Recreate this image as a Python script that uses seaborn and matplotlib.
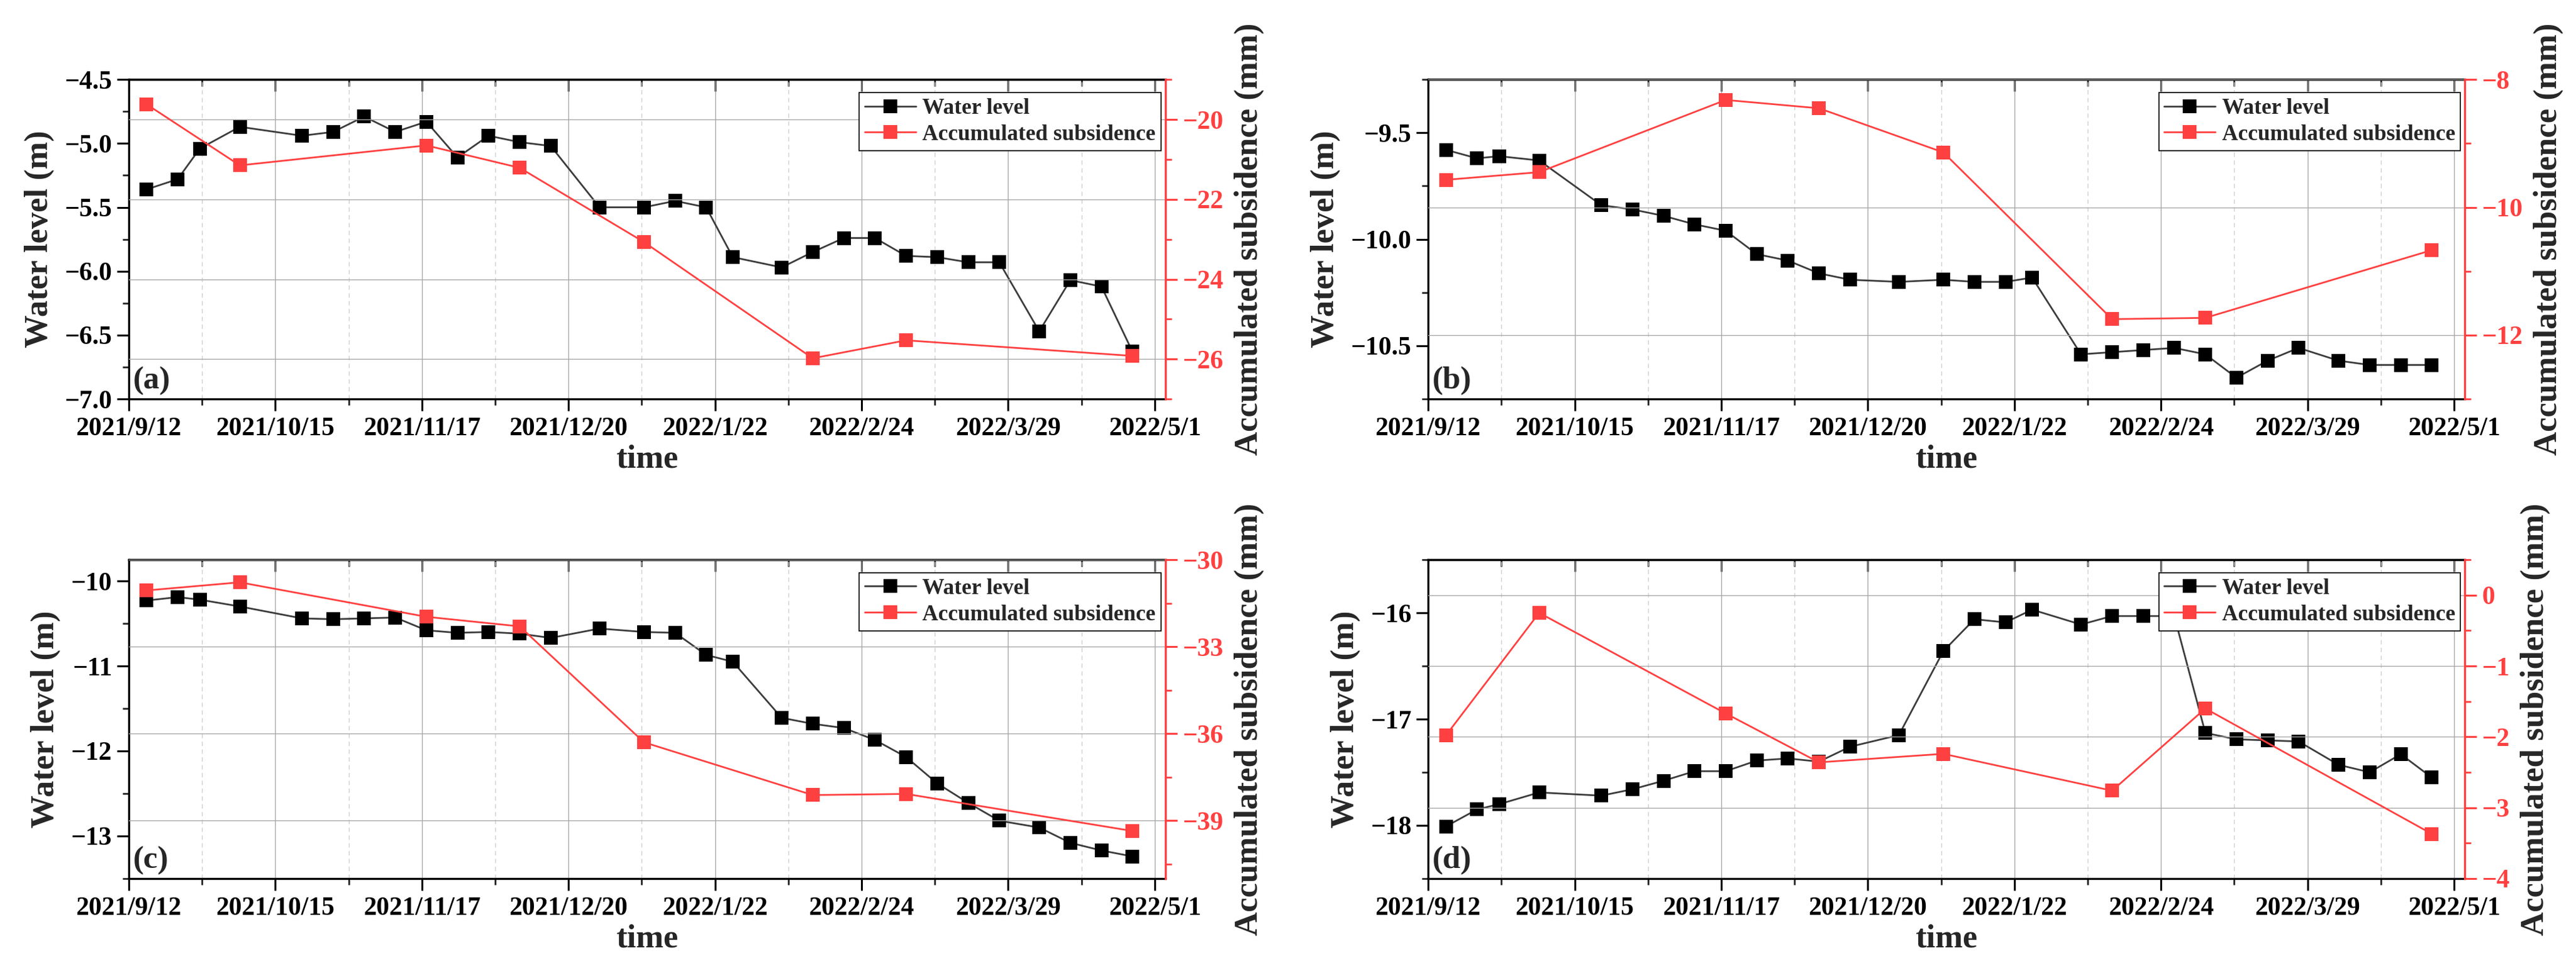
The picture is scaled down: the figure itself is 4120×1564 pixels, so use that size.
import numpy as np
import pandas as pd
import matplotlib
matplotlib.use("Agg")
import matplotlib.pyplot as plt
import matplotlib.dates as mdates
from matplotlib.ticker import MultipleLocator, FixedLocator, FuncFormatter
import seaborn as sns

sns.set_style("ticks")
plt.rcParams["font.family"] = ["Liberation Serif", "DejaVu Serif"]
plt.rcParams["font.weight"] = "bold"
plt.rcParams["axes.labelweight"] = "bold"

# ----------------------------------------------------------
# data
# ----------------------------------------------------------
wl_dates = ["2021-09-16", "2021-09-23", "2021-09-28", "2021-10-07", "2021-10-21",
            "2021-10-28", "2021-11-04", "2021-11-11", "2021-11-18", "2021-11-25",
            "2021-12-02", "2021-12-09", "2021-12-16", "2021-12-27", "2022-01-06",
            "2022-01-13", "2022-01-20", "2022-01-26", "2022-02-06", "2022-02-13",
            "2022-02-20", "2022-02-27", "2022-03-06", "2022-03-13", "2022-03-20",
            "2022-03-27", "2022-04-05", "2022-04-12", "2022-04-19", "2022-04-26"]
sub_dates = ["2021-09-16", "2021-10-07", "2021-11-18", "2021-12-09",
             "2022-01-06", "2022-02-13", "2022-03-06", "2022-04-26"]

wl_a = [-5.36, -5.28, -5.04, -4.87, -4.94, -4.91, -4.79, -4.91, -4.83, -5.11,
        -4.94, -4.99, -5.02, -5.50, -5.50, -5.45, -5.50, -5.89, -5.97, -5.85,
        -5.74, -5.74, -5.88, -5.89, -5.93, -5.93, -6.47, -6.07, -6.12, -6.63]
sub_a = [-19.62, -21.15, -20.65, -21.21, -23.07, -25.98, -25.53, -25.92]

wl_b = [-9.58, -9.62, -9.61, -9.63, -9.84, -9.86, -9.89, -9.93, -9.96, -10.07,
        -10.10, -10.16, -10.19, -10.20, -10.19, -10.20, -10.20, -10.18, -10.54, -10.53,
        -10.52, -10.51, -10.54, -10.65, -10.57, -10.51, -10.57, -10.59, -10.59, -10.59]
sub_b = [-9.57, -9.45, -8.32, -8.45, -9.14, -11.75, -11.73, -10.67]

wl_c = [-10.23, -10.19, -10.22, -10.30, -10.44, -10.45, -10.44, -10.43, -10.58, -10.61,
        -10.60, -10.62, -10.67, -10.56, -10.60, -10.61, -10.87, -10.95, -11.61, -11.68,
        -11.73, -11.87, -12.07, -12.38, -12.61, -12.82, -12.90, -13.08, -13.17, -13.24]
sub_c = [-31.06, -30.78, -31.97, -32.30, -36.30, -38.12, -38.08, -39.36]

wl_d = [-18.01, -17.85, -17.80, -17.69, -17.72, -17.66, -17.58, -17.49, -17.49, -17.39,
        -17.37, -17.40, -17.26, -17.15, -16.36, -16.06, -16.09, -15.97, -16.11, -16.03,
        -16.03, -16.03, -17.13, -17.19, -17.20, -17.21, -17.43, -17.50, -17.33, -17.55]
sub_d = [-1.98, -0.25, -1.67, -2.36, -2.24, -2.76, -1.60, -3.37]

tick_dates = ["2021-09-12", "2021-10-15", "2021-11-17", "2021-12-20",
              "2022-01-22", "2022-02-24", "2022-03-29", "2022-05-01"]
tick_labels = ["2021/9/12", "2021/10/15", "2021/11/17", "2021/12/20",
               "2022/1/22", "2022/2/24", "2022/3/29", "2022/5/1"]

# panel: label, water level, subsidence, left lim, left major, left decimals,
#        right lim, right major
panels = [
    ("(a)", wl_a, sub_a, (-7.0, -4.5), 0.5, 1, (-27, -19), 2),
    ("(b)", wl_b, sub_b, (-10.75, -9.25), 0.5, 1, (-13, -8), 2),
    ("(c)", wl_c, sub_c, (-13.5, -9.75), 1, 0, (-41, -30), 3),
    ("(d)", wl_d, sub_d, (-18.5, -15.5), 1, 0, (-4, 0.5), 1),
]
boxes = [[0.050, 0.592, 0.4024, 0.3267],
         [0.5544, 0.592, 0.4024, 0.3267],
         [0.050, 0.1017, 0.4024, 0.326],
         [0.5544, 0.1017, 0.4024, 0.326]]

RED = "#ff4040"
DARK = "#3c3c3c"

wl_x = pd.to_datetime(wl_dates)
sub_x = pd.to_datetime(sub_dates)
tx = pd.to_datetime(tick_dates)
tnum = mdates.date2num(tx)
minor_num = tnum[:-1] + np.diff(tnum) / 2


def fmt(dec):
    return FuncFormatter(lambda v, p: f"{v:.{dec}f}".replace("-", "\u2212"))


fig = plt.figure(figsize=(41.2, 15.64), dpi=100)

for (lab, wl, sub, ylim1, maj1, dec1, ylim2, maj2), box in zip(panels, boxes):
    ax = fig.add_axes(box)
    ax2 = ax.twinx()

    sns.lineplot(x=wl_x, y=wl, ax=ax, color=DARK, lw=2.0, marker="s",
                 markersize=16, markerfacecolor="black", markeredgecolor="black",
                 markeredgewidth=0, label="Water level", legend=False)
    sns.lineplot(x=sub_x, y=sub, ax=ax2, color=RED, lw=2.0, marker="s",
                 markersize=16, markerfacecolor=RED, markeredgecolor=RED,
                 markeredgewidth=0, label="Accumulated subsidence", legend=False)

    ax.set_xlim(tnum[0], tnum[-1] + 2.4)
    ax.set_ylim(*ylim1)
    ax2.set_ylim(*ylim2)

    ax.xaxis.set_major_locator(FixedLocator(tnum))
    ax.xaxis.set_minor_locator(FixedLocator(minor_num))
    ax.set_xticklabels(tick_labels)
    ax.yaxis.set_major_locator(MultipleLocator(maj1))
    ax.yaxis.set_minor_locator(MultipleLocator(maj1 / 2))
    ax.yaxis.set_major_formatter(fmt(dec1))
    ax2.yaxis.set_major_locator(MultipleLocator(maj2))
    ax2.yaxis.set_minor_locator(MultipleLocator(maj2 / 2))
    ax2.yaxis.set_major_formatter(fmt(0))

    # grid: vertical from time axis, horizontal from subsidence axis
    ax.grid(False)
    ax.xaxis.grid(True, which="major", color="#a8a8a8", lw=1.0, ls="-")
    ax.xaxis.grid(True, which="minor", color="#cfcfcf", lw=1.0, ls=(0, (5, 4)))
    ax2.yaxis.grid(True, which="major", color="#a8a8a8", lw=1.0, ls="-")
    ax.set_axisbelow(True)

    for s in ["top", "bottom", "left"]:
        ax.spines[s].set_linewidth(2.4)
        ax.spines[s].set_color("black")
        ax2.spines[s].set_visible(False)
    ax.spines["right"].set_visible(False)
    ax2.spines["right"].set_color(RED)
    ax2.spines["right"].set_linewidth(2.4)

    ax.tick_params(axis="both", which="major", labelsize=30, length=14, width=2.2,
                   direction="out", colors="black")
    ax.tick_params(axis="both", which="minor", length=7, width=2.0, direction="out")
    ax.tick_params(axis="y", which="major", pad=5)
    ax.tick_params(axis="x", which="major", pad=7)
    ax2.tick_params(axis="y", which="major", labelsize=30, length=14, width=2.2,
                    direction="out", colors=RED, pad=6)
    ax2.tick_params(axis="y", which="minor", length=7, width=2.0, direction="out",
                    colors=RED)

    # inward ticks on the top edge
    top = ax.secondary_xaxis("top")
    top.xaxis.set_major_locator(FixedLocator(tnum))
    top.xaxis.set_minor_locator(FixedLocator(minor_num))
    top.tick_params(which="major", direction="in", length=14, width=2.2, labeltop=False)
    top.tick_params(which="minor", direction="in", length=8, width=2.0)
    top.spines["top"].set_linewidth(2.4)

    ax.set_xlabel("time", fontsize=38, labelpad=4)
    ax.set_ylabel("Water level (m)", fontsize=38, labelpad=12)
    ax2.set_ylabel("Accumulated subsidence (mm)", fontsize=38, labelpad=12)

    ax.text(0.004, 0.012, lab, transform=ax.transAxes, fontsize=37,
            fontweight="bold", ha="left", va="bottom")

    handles = ax.get_lines()[:1] + ax2.get_lines()[:1]
    leg = ax2.legend(handles, ["Water level", "Accumulated subsidence"],
                     loc="upper right", bbox_to_anchor=(0.996, 0.959),
                     borderaxespad=0, fontsize=25.5, frameon=True, fancybox=False,
                     edgecolor="black", framealpha=1, handlelength=2.3,
                     handletextpad=0.3, labelspacing=0.25, borderpad=0.25)
    leg.get_frame().set_linewidth(1.2)

fig.savefig("out.png", dpi=100)
